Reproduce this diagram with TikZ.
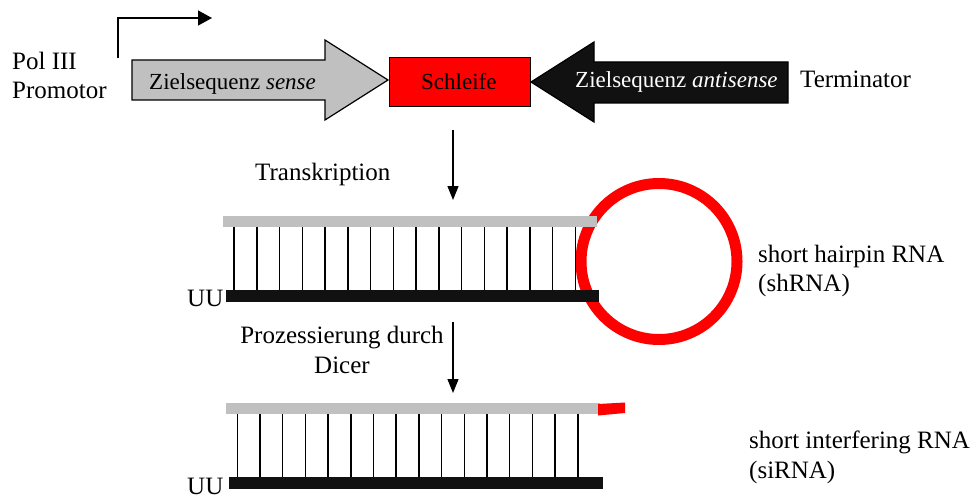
\documentclass[tikz,border=0pt]{standalone}
\usepackage{fontspec}
\setmainfont{Liberation Serif}
\usetikzlibrary{arrows.meta}
\definecolor{senseGray}{HTML}{C0C0C0}
\definecolor{antiBlack}{HTML}{111111}
\definecolor{loopRed}{HTML}{FF0000}
\begin{document}
\begin{tikzpicture}[x=1pt,y=-1pt,
  lbl/.style={inner sep=0pt, font=\fontsize{25}{29}\selectfont, anchor=base west},
  albl/.style={inner sep=0pt, font=\fontsize{23}{27}\selectfont, anchor=base west},
  flow/.style={line width=1.3pt, -{Triangle[length=14pt,width=11pt]}},
  rung/.style={line width=1.5pt, black},
  outline/.style={draw=black, line width=1.2pt},
  gstrand/.style={fill=senseGray},
  bstrand/.style={fill=antiBlack}]
\useasboundingbox (0,0) rectangle (971,500);
\fill[white] (0,0) rectangle (971,500);

% --- expression cassette ---
\coordinate (tss) at (118,58);
\coordinate (tssend) at (212,18);
\draw[line width=1.3pt, -{Triangle[length=14pt,width=15pt]}] (tss) |- (tssend);

\node[lbl] (pol) at (12,70) {Pol III};
\node[lbl] (prom) at (12,99) {Promotor};

% sense target sequence
\draw[outline, fill=senseGray] (132,60) -- (325,60) -- (325,40) -- (388,80)
  -- (325,120) -- (325,100) -- (132,100) -- cycle;
\node[albl] (sense) at (149,90) {Zielsequenz \textit{sense}};

% loop
\node[outline, fill=loopRed, minimum width=141pt, minimum height=49pt,
  inner sep=0pt, anchor=north west] (loopbox) at (389,57) {};
\node[albl] (looplbl) at (421,90) {Schleife};

% antisense target sequence
\draw[outline, fill=antiBlack] (788,62) -- (594,62) -- (594,42) -- (531,82)
  -- (594,122) -- (594,103) -- (788,103) -- cycle;
\node[albl, text=white] (anti) at (575,88) {Zielsequenz \textit{antisense}};

\node[lbl] (term) at (800,88) {Terminator};

% --- transcription ---
\coordinate (t1) at (453,130);
\coordinate (t2) at (453,200);
\draw[flow] (t1) -- (t2);
\node[lbl] (transk) at (255,180) {Transkription};

% --- shRNA ---
\draw[loopRed, line width=11pt] (659,261.5) circle[radius=78pt];
\foreach \i in {0,...,15}
  \draw[rung] ({234+\i*22.75},226) -- ({234+\i*22.75},294);
\fill[gstrand] (223,216) rectangle (597,227);
\fill[bstrand] (226,290) rectangle (599,302);
\node[lbl] (uu1) at (187,306) {UU};
\node[lbl] (sh1) at (758,262) {short hairpin RNA};
\node[lbl] (sh2) at (758,291) {(shRNA)};

% --- Dicer processing ---
\coordinate (d1) at (453,322);
\coordinate (d2) at (453,393);
\draw[flow] (d1) -- (d2);
\node[inner sep=0pt, font=\fontsize{25}{30}\selectfont, align=center, anchor=base]
  (dicer) at (342,373) {Prozessierung durch\\Dicer};

% --- siRNA ---
\foreach \i in {0,...,15}
  \draw[rung] ({237.3+\i*22.7},413) -- ({237.3+\i*22.7},482);
\fill[gstrand] (226,403) rectangle (600,414);
\fill[bstrand] (229,477) rectangle (603,489);
\fill[loopRed] (598,404) -- (625,402.5) -- (625,413) -- (598,415.5) -- cycle;
\node[lbl] (uu2) at (187,494) {UU};
\node[lbl] (si1) at (749,448) {short interfering RNA};
\node[lbl] (si2) at (749,478) {(siRNA)};
\end{tikzpicture}
\end{document}
